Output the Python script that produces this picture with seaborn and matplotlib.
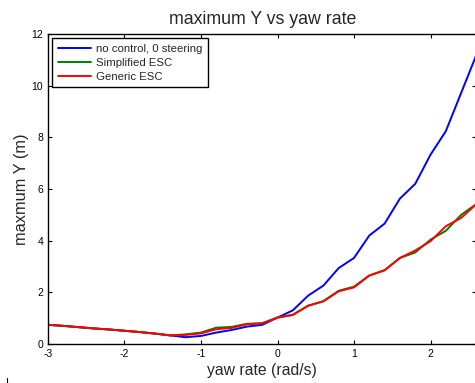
import seaborn as sns
import matplotlib.pyplot as plt
import pandas as pd
from matplotlib.lines import Line2D

# yaw rate samples (rad/s)
yaw = [-3.0, -2.8, -2.6, -2.4, -2.2, -2.0, -1.8, -1.6, -1.4, -1.2, -1.0, -0.8, -0.6, -0.4, -0.2,
       0.0, 0.2, 0.4, 0.6, 0.8, 1.0, 1.2, 1.4, 1.6, 1.8, 2.0, 2.2, 2.4, 2.6]

# maximum Y (m)
no_control = [0.74, 0.70, 0.65, 0.60, 0.56, 0.51, 0.46, 0.40, 0.33, 0.26, 0.31, 0.44, 0.54, 0.67, 0.74,
              1.02, 1.30, 1.87, 2.26, 2.94, 3.33, 4.20, 4.66, 5.63, 6.20, 7.33, 8.24, 9.72, 11.20]
simplified = [0.74, 0.70, 0.65, 0.60, 0.56, 0.51, 0.46, 0.40, 0.33, 0.37, 0.44, 0.63, 0.66, 0.78, 0.80,
              1.02, 1.12, 1.48, 1.66, 2.06, 2.22, 2.65, 2.86, 3.33, 3.54, 4.04, 4.38, 5.00, 5.42]
generic = [0.74, 0.70, 0.65, 0.60, 0.56, 0.51, 0.46, 0.40, 0.33, 0.35, 0.41, 0.57, 0.62, 0.76, 0.80,
           1.02, 1.13, 1.48, 1.65, 2.04, 2.19, 2.65, 2.85, 3.33, 3.62, 3.98, 4.56, 4.88, 5.42]

names = ["no control, 0 steering", "Simplified ESC", "Generic ESC"]
colors = ["#0000ff", "#008000", "#ff0000"]

df = pd.concat([
    pd.DataFrame({"yaw": yaw, "maxY": vals, "case": name})
    for name, vals in zip(names, [no_control, simplified, generic])
])

sns.set_style("ticks")
plt.rcParams["font.family"] = ["Liberation Sans", "DejaVu Sans"]
plt.rcParams["axes.unicode_minus"] = False

fig = plt.figure(figsize=(4.75, 3.83), dpi=100)
ax = fig.add_axes([0.101, 0.102, 0.902, 0.809])

sns.lineplot(data=df, x="yaw", y="maxY", hue="case", palette=colors,
             hue_order=names, linewidth=1.4, ax=ax, legend=True)

ax.set_xlim(-3, 2.6)
ax.set_ylim(0, 12)
ax.set_xticks([-3, -2, -1, 0, 1, 2])
ax.set_yticks([0, 2, 4, 6, 8, 10, 12])
ax.tick_params(direction="in", length=3, width=0.8, labelsize=7.5,
               top=True, right=True, colors="black")
for s in ax.spines.values():
    s.set_linewidth(1.0)
    s.set_color("black")

ax.set_title("maximum Y vs yaw rate", fontsize=12.8, pad=7)
ax.set_xlabel("yaw rate (rad/s)", fontsize=11.3, labelpad=3)
ax.set_ylabel("maxmum Y (m)", fontsize=11.8, labelpad=1.5)

leg = ax.legend(loc="upper left", fontsize=8.2, frameon=True, fancybox=False,
                borderaxespad=0.35, handlelength=2.9, handletextpad=0.5,
                labelspacing=0.35, borderpad=0.5)
leg.get_frame().set_edgecolor("black")
leg.get_frame().set_linewidth(1.0)
leg.get_frame().set_alpha(1)

# tiny stray mark in the lower-left corner of the original
fig.add_artist(Line2D([0.0147, 0.0147], [0.0, 0.013], color="black", lw=0.8))

fig.savefig("out.png", dpi=100)
